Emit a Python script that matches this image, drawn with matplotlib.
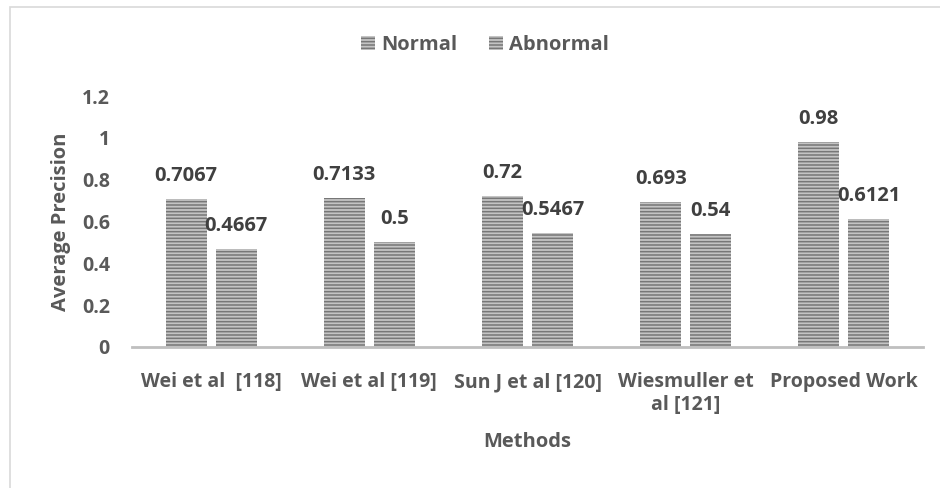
import matplotlib.pyplot as plt
import numpy as np
from matplotlib.patches import Rectangle

methods = ["Wei et al  [118]", "Wei et al [119]", "Sun J et al [120]",
           "Wiesmuller et\nal [121]", "Proposed Work"]
normal = [0.7067, 0.7133, 0.72, 0.693, 0.98]
abnormal = [0.4667, 0.5, 0.5467, 0.54, 0.6121]
normal_labels = ["0.7067", "0.7133", "0.72", "0.693", "0.98"]
abnormal_labels = ["0.4667", "0.5", "0.5467", "0.54", "0.6121"]

plt.rcParams['font.family'] = ['Open Sans', 'DejaVu Sans']
plt.rcParams['hatch.linewidth'] = 1.1
plt.rcParams['hatch.color'] = '#777777'

fig = plt.figure(figsize=(9.4, 4.88), dpi=100)
ax = fig.add_axes([132 / 940, 1 - 347 / 488, 791 / 940, 251 / 488])

# light border around the whole chart area
fig.patches.append(Rectangle((10 / 940, -0.1), 1.2, 1 - 7 / 488 + 0.1,
                             transform=fig.transFigure, fill=False,
                             edgecolor='#d9d9d9', linewidth=1.2))

x = np.arange(len(methods))
w = 0.26
off = 0.158
bar_style = dict(color='#c4c4c4', hatch='-' * 5, edgecolor='#777777', linewidth=0)
b1 = ax.bar(x - off, normal, w, label='Normal', **bar_style)
b2 = ax.bar(x + off, abnormal, w, label='Abnormal', **bar_style)

for bars, labs in ((b1, normal_labels), (b2, abnormal_labels)):
    for b, t in zip(bars, labs):
        ax.annotate(t, (b.get_x() + b.get_width() / 2, b.get_height()),
                    xytext=(0, 13), textcoords='offset pixels',
                    ha='center', va='bottom', fontsize=14.5, fontweight='bold',
                    color='#404040')

ax.set_xlim(-0.5, 4.5)
ax.set_ylim(0, 1.2)
ax.set_yticks([0, 0.2, 0.4, 0.6, 0.8, 1, 1.2])
ax.set_yticklabels(['0', '0.2', '0.4', '0.6', '0.8', '1', '1.2'])
ax.set_xticks(x)
ax.set_xticklabels(methods)
for s in ['top', 'right', 'left']:
    ax.spines[s].set_visible(False)
ax.spines['bottom'].set_color('#bfbfbf')
ax.spines['bottom'].set_linewidth(2)
ax.tick_params(axis='both', length=0, labelsize=14, labelcolor='#595959')
ax.tick_params(axis='y', pad=16)
ax.tick_params(axis='x', pad=18)
for lab in ax.get_xticklabels() + ax.get_yticklabels():
    lab.set_fontweight('bold')

ax.set_ylabel('Average Precision', fontsize=14.5, fontweight='bold', color='#595959', labelpad=8)
ax.set_xlabel('Methods', fontsize=14.5, fontweight='bold', color='#595959', labelpad=12)

fig.legend(handles=[b1, b2], labels=['Normal', 'Abnormal'], loc='center',
           bbox_to_anchor=(0.516, 1 - 45 / 488), ncol=2, frameon=False,
           prop={'size': 14.5, 'weight': 'bold'}, labelcolor='#595959',
           handlelength=0.7, handleheight=0.7, handletextpad=0.3, columnspacing=1.6)

fig.savefig('out.png', dpi=100)
